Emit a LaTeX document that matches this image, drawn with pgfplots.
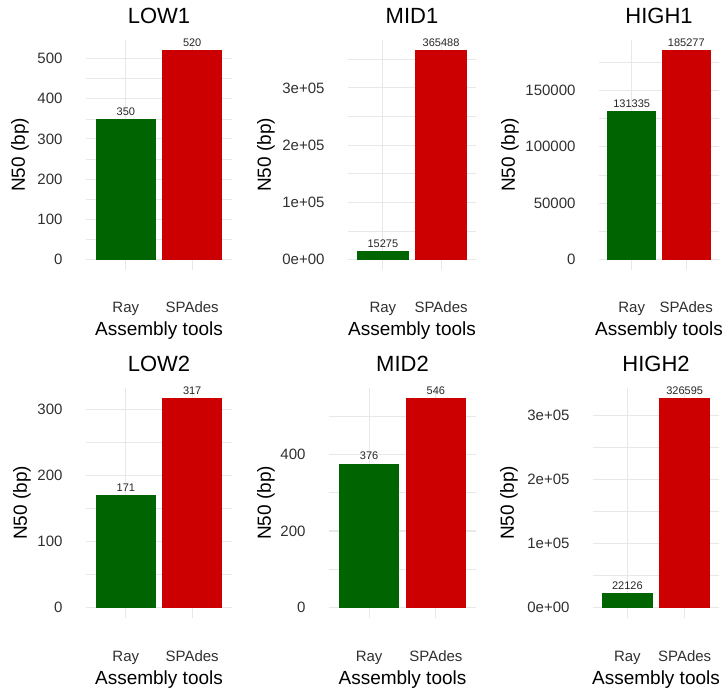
\documentclass[border=0pt]{standalone}
\usepackage{pgfplots}
\pgfplotsset{compat=1.18}
\usepackage{fontspec}
\setmainfont{Liberation Sans}
\definecolor{rayc}{RGB}{0,100,0}
\definecolor{spac}{RGB}{204,0,0}
\definecolor{gridc}{RGB}{232,232,232}
\definecolor{tickc}{RGB}{48,48,48}
\newcommand{\titf}{\fontsize{22bp}{26bp}\selectfont}
\newcommand{\labf}{\fontsize{19bp}{22bp}\selectfont}
\newcommand{\ticf}{\fontsize{15bp}{18bp}\selectfont}
\newcommand{\valf}{\fontsize{11bp}{13bp}\selectfont}
\pgfplotsset{
  base/.style={
    scale only axis, height=230bp, anchor=south west,
    enlargelimits=false,
    xmin=0.4, xmax=2.6, xtick={1,2}, xticklabels={Ray,SPAdes},
    axis line style={draw=none}, major tick length=0pt, minor tick length=0pt,
    xmajorgrids, ymajorgrids, yminorgrids,
    major grid style={color=gridc, line width=1.1bp},
    minor grid style={color=gridc, line width=0.55bp},
    scaled y ticks=false,
    xticklabel style={anchor=base, yshift=-43bp, font=\ticf, text=tickc},
    yticklabel style={anchor=east, xshift=-20bp, font=\ticf, text=tickc},
    title style={at={(axis description cs:0.5,1)}, anchor=base, yshift=11bp, font=\titf},
    xlabel={Assembly tools}, ylabel={N50 (bp)},
    xlabel style={at={(axis description cs:0.5,0)}, anchor=base, yshift=-66bp, font=\labf},
    ylabel style={font=\labf, anchor=center},
    clip=false,
    nodes near coords, point meta=explicit symbolic,
    nodes near coords style={font=\valf, text=black!85},
  },
  rbar/.style={ybar, bar width=0.9, bar shift=0pt, fill=rayc, draw=none},
  sbar/.style={ybar, bar width=0.9, bar shift=0pt, fill=spac, draw=none},
}
\begin{document}
\begin{tikzpicture}
\useasboundingbox (0,0) rectangle (724bp,688bp);
% LOW1
\begin{axis}[base, at={(86bp,418bp)}, width=146bp, title={LOW1},
  ymin=-26, ymax=546, ytick={0,100,200,300,400,500}, yticklabels={0,100,200,300,400,500},
  minor ytick={50,150,250,350,450},
  ylabel style={at={(axis description cs:-0.452,0.5)}}]
\addplot[rbar] coordinates {(1,350) [350]};
\addplot[sbar] coordinates {(2,520) [520]};
\end{axis}
% MID1
\begin{axis}[base, at={(348bp,418bp)}, width=128bp, title={MID1},
  ymin=-18274.4, ymax=383762.4, ytick={0,100000,200000,300000}, yticklabels={0e+00,1e+05,2e+05,3e+05},
  minor ytick={50000,150000,250000,350000},
  ylabel style={at={(axis description cs:-0.641,0.5)}}]
\addplot[rbar] coordinates {(1,15275) [15275]};
\addplot[sbar] coordinates {(2,365488) [365488]};
\end{axis}
% HIGH1
\begin{axis}[base, at={(599bp,418bp)}, width=120bp, title={HIGH1},
  ymin=-9263.85, ymax=194540.85, ytick={0,50000,100000,150000}, yticklabels={0,50000,100000,150000},
  minor ytick={25000,75000,125000,175000},
  ylabel style={at={(axis description cs:-0.742,0.5)}}]
\addplot[rbar] coordinates {(1,131335) [131335]};
\addplot[sbar] coordinates {(2,185277) [185277]};
\end{axis}
% LOW2
\begin{axis}[base, at={(86bp,70bp)}, width=146bp, title={LOW2},
  ymin=-15.85, ymax=332.85, ytick={0,100,200,300}, yticklabels={0,100,200,300},
  minor ytick={50,150,250},
  ylabel style={at={(axis description cs:-0.438,0.5)}}]
\addplot[rbar] coordinates {(1,171) [171]};
\addplot[sbar] coordinates {(2,317) [317]};
\end{axis}
% MID2
\begin{axis}[base, at={(329bp,70bp)}, width=147bp, title={MID2},
  ymin=-27.3, ymax=573.3, ytick={0,200,400}, yticklabels={0,200,400},
  minor ytick={100,300,500},
  ylabel style={at={(axis description cs:-0.429,0.5)}}]
\addplot[rbar] coordinates {(1,376) [376]};
\addplot[sbar] coordinates {(2,546) [546]};
\end{axis}
% HIGH2
\begin{axis}[base, at={(593bp,70bp)}, width=126bp, title={HIGH2},
  ymin=-16329.75, ymax=342924.75, ytick={0,100000,200000,300000}, yticklabels={0e+00,1e+05,2e+05,3e+05},
  minor ytick={50000,150000,250000},
  ylabel style={at={(axis description cs:-0.667,0.5)}}]
\addplot[rbar] coordinates {(1,22126) [22126]};
\addplot[sbar] coordinates {(2,326595) [326595]};
\end{axis}
\end{tikzpicture}
\end{document}
